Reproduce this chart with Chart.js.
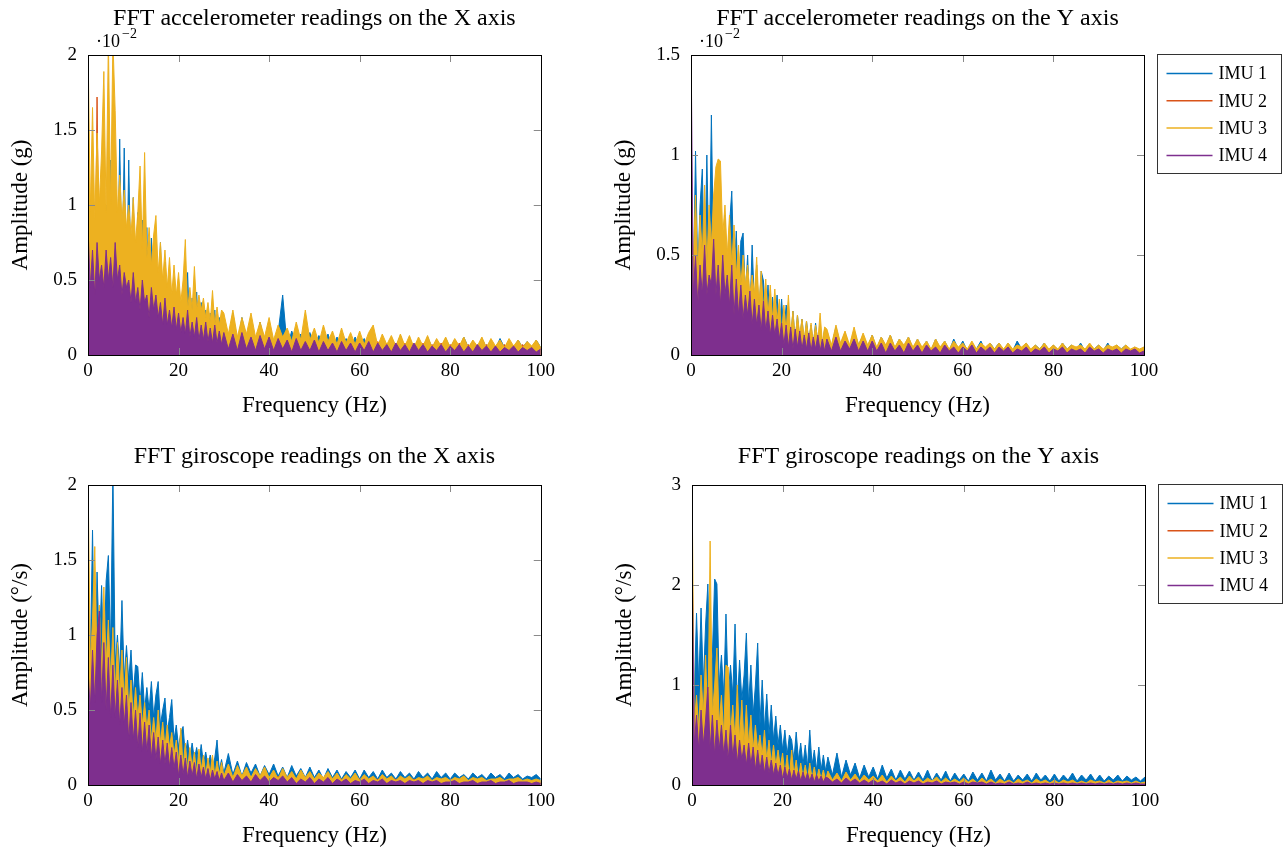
<!DOCTYPE html>
<html>
<head>
<meta charset="utf-8">
<script src="https://cdn.jsdelivr.net/npm/chart.js@4.4.1/dist/chart.umd.min.js"></script>
<style>
  body { margin: 0; background: #fff; width: 1288px; height: 850px; position: relative; overflow: hidden; }
  canvas { position: absolute; }
</style>
</head>
<body>
<canvas id="accX" width="560" height="430" style="left:0px;top:0px"></canvas>
<canvas id="accY" width="685" height="430" style="left:603px;top:0px"></canvas>
<canvas id="gyrX" width="560" height="420" style="left:0px;top:430px"></canvas>
<canvas id="gyrY" width="684" height="420" style="left:604px;top:430px"></canvas>
<script>
// frequency bins (Hz) - 0.5 Hz steps up to 30, then 1 Hz
const freqHz = [
  0, 0.5, 1, 1.5, 2, 2.5, 3, 3.5, 4, 4.5,
  5, 5.5, 6, 6.5, 7, 7.5, 8, 8.5, 9, 9.5,
  10, 10.5, 11, 11.5, 12, 12.5, 13, 13.5, 14, 14.5,
  15, 15.5, 16, 16.5, 17, 17.5, 18, 18.5, 19, 19.5,
  20, 20.5, 21, 21.5, 22, 22.5, 23, 23.5, 24, 24.5,
  25, 25.5, 26, 26.5, 27, 27.5, 28, 28.5, 29, 29.5,
  30, 31, 32, 33, 34, 35, 36, 37, 38, 39,
  40, 41, 42, 43, 44, 45, 46, 47, 48, 49,
  50, 51, 52, 53, 54, 55, 56, 57, 58, 59,
  60, 61, 62, 63, 64, 65, 66, 67, 68, 69,
  70, 71, 72, 73, 74, 75, 76, 77, 78, 79,
  80, 81, 82, 83, 84, 85, 86, 87, 88, 89,
  90, 91, 92, 93, 94, 95, 96, 97, 98, 99, 100
];

const imuLabels = ["IMU 1", "IMU 2", "IMU 3", "IMU 4"];
const imuColors = ["#0072BD", "#D95319", "#EDB120", "#7E2F8E"];

const xTicks = [0, 20, 40, 60, 80, 100];
const yTicksAccX = [0, 0.5, 1, 1.5, 2];
const yTicksAccY = [0, 0.5, 1, 1.5];
const yTicksGyrX = [0, 0.5, 1, 1.5, 2];
const yTicksGyrY = [0, 1, 2, 3];

// accelerometer X (x 10^-2 g)
const accXImu1 = [
  0.9, 0.3, 1.1, 0.4, 0.95, 0.25, 1.2, 0.5, 1.0, 0.35,
  1.3, 0.4, 0.9, 0.3, 1.44, 0.5, 1.38, 0.35, 1.3, 0.45,
  1.05, 0.3, 0.95, 0.25, 0.9, 0.3, 0.85, 0.2, 0.78, 0.25,
  0.7, 0.2, 0.75, 0.15, 0.62, 0.2, 0.55, 0.1, 0.5, 0.15,
  0.45, 0.1, 0.4, 0.12, 0.55, 0.1, 0.38, 0.08, 0.42, 0.1,
  0.35, 0.08, 0.3, 0.1, 0.28, 0.06, 0.3, 0.08, 0.25, 0.07,
  0.22, 0.08, 0.28, 0.06, 0.25, 0.1, 0.2, 0.05, 0.22, 0.08,
  0.18, 0.06, 0.15, 0.4, 0.05, 0.16, 0.07, 0.14, 0.05, 0.15,
  0.06, 0.13, 0.05, 0.14, 0.04, 0.12, 0.06, 0.11, 0.04, 0.12,
  0.05, 0.11, 0.04, 0.13, 0.05, 0.1, 0.04, 0.12, 0.05, 0.13,
  0.04, 0.11, 0.05, 0.1, 0.04, 0.12, 0.05, 0.1, 0.04, 0.11,
  0.05, 0.1, 0.04, 0.12, 0.05, 0.09, 0.04, 0.11, 0.05, 0.1,
  0.04, 0.11, 0.05, 0.09, 0.04, 0.1, 0.05, 0.09, 0.04, 0.1, 0.05
];
const accXImu2 = [
  1.5, 0.3, 1.0, 0.2, 1.72, 0.4, 0.8, 0.1, 0.9, 0.3,
  0.7, 0.2, 0.9, 0.3, 0.6, 0.1, 0.75, 0.2, 0.5, 0.15,
  0.6, 0.1, 0.5, 0.2, 0.45, 0.1, 0.5, 0.08, 0.4, 0.1,
  0.35, 0.05, 0.4, 0.1, 0.3, 0.05, 0.35, 0.08, 0.25, 0.05,
  0.3, 0.05, 0.25, 0.08, 0.2, 0.04, 0.22, 0.05, 0.18, 0.04,
  0.2, 0.05, 0.15, 0.03, 0.18, 0.04, 0.14, 0.03, 0.16, 0.04,
  0.14, 0.03, 0.12, 0.04, 0.13, 0.02, 0.11, 0.03, 0.12, 0.04,
  0.1, 0.03, 0.11, 0.02, 0.1, 0.03, 0.09, 0.02, 0.1, 0.03,
  0.09, 0.02, 0.1, 0.03, 0.08, 0.02, 0.09, 0.03, 0.08, 0.02,
  0.09, 0.03, 0.08, 0.02, 0.09, 0.03, 0.08, 0.02, 0.07, 0.03,
  0.08, 0.02, 0.07, 0.03, 0.08, 0.02, 0.07, 0.03, 0.08, 0.02,
  0.07, 0.02, 0.08, 0.03, 0.07, 0.02, 0.06, 0.03, 0.07, 0.02,
  0.06, 0.03, 0.07, 0.02, 0.06, 0.03, 0.07, 0.02, 0.06, 0.03, 0.05
];
const accXImu3 = [
  2.1, 0.95, 1.65, 0.9, 1.48, 1.0, 1.36, 1.89, 0.95, 2.1,
  1.0, 2.1, 1.63, 0.95, 1.2, 0.9, 1.1, 0.85, 1.0, 0.8,
  1.05, 0.75, 0.95, 1.26, 0.7, 1.35, 0.65, 0.85, 0.6, 0.8,
  0.93, 0.55, 0.75, 0.5, 0.7, 0.45, 0.65, 0.4, 0.6, 0.4,
  0.55, 0.35, 0.5, 0.77, 0.3, 0.45, 0.3, 0.59, 0.3, 0.4,
  0.3, 0.38, 0.25, 0.35, 0.22, 0.43, 0.2, 0.32, 0.2, 0.3,
  0.28, 0.14, 0.3, 0.12, 0.25, 0.14, 0.28, 0.12, 0.22, 0.12,
  0.25, 0.1, 0.2, 0.12, 0.18, 0.09, 0.22, 0.1, 0.3, 0.1,
  0.18, 0.08, 0.2, 0.09, 0.16, 0.07, 0.18, 0.08, 0.15, 0.07,
  0.16, 0.07, 0.15, 0.2, 0.06, 0.14, 0.07, 0.13, 0.06, 0.14,
  0.06, 0.13, 0.05, 0.12, 0.06, 0.13, 0.05, 0.11, 0.06, 0.12,
  0.05, 0.11, 0.06, 0.12, 0.05, 0.1, 0.06, 0.12, 0.05, 0.11,
  0.06, 0.1, 0.05, 0.11, 0.06, 0.1, 0.05, 0.09, 0.06, 0.1, 0.05
];
const accXImu4 = [
  0.85, 0.45, 0.7, 0.4, 0.75, 0.5, 0.6, 0.45, 0.7, 0.5,
  0.65, 0.45, 0.75, 0.5, 0.6, 0.4, 0.55, 0.45, 0.5, 0.35,
  0.55, 0.35, 0.45, 0.3, 0.5, 0.35, 0.4, 0.25, 0.45, 0.3,
  0.4, 0.25, 0.35, 0.2, 0.38, 0.2, 0.3, 0.18, 0.32, 0.17,
  0.28, 0.15, 0.25, 0.14, 0.3, 0.12, 0.22, 0.12, 0.25, 0.1,
  0.2, 0.1, 0.22, 0.09, 0.18, 0.08, 0.2, 0.08, 0.16, 0.07,
  0.15, 0.04, 0.14, 0.03, 0.15, 0.04, 0.12, 0.03, 0.13, 0.04,
  0.12, 0.03, 0.11, 0.04, 0.1, 0.02, 0.11, 0.03, 0.09, 0.03,
  0.1, 0.02, 0.09, 0.03, 0.08, 0.02, 0.09, 0.03, 0.08, 0.02,
  0.08, 0.03, 0.09, 0.02, 0.08, 0.03, 0.07, 0.02, 0.08, 0.03,
  0.07, 0.02, 0.08, 0.03, 0.07, 0.02, 0.06, 0.03, 0.07, 0.02,
  0.06, 0.03, 0.07, 0.02, 0.06, 0.02, 0.07, 0.03, 0.06, 0.02,
  0.06, 0.02, 0.05, 0.03, 0.06, 0.02, 0.05, 0.03, 0.05, 0.02, 0.04
];

// accelerometer Y (x 10^-2 g)
const accYImu1 = [
  0.87, 0.3, 1.02, 0.4, 0.75, 0.93, 0.35, 1.0, 0.4, 1.2,
  0.45, 0.8, 0.3, 0.75, 0.35, 0.7, 0.3, 0.65, 0.82, 0.4,
  0.62, 0.25, 0.57, 0.61, 0.3, 0.5, 0.2, 0.55, 0.25, 0.45,
  0.2, 0.42, 0.37, 0.15, 0.35, 0.12, 0.29, 0.15, 0.3, 0.1,
  0.28, 0.1, 0.25, 0.21, 0.08, 0.22, 0.07, 0.2, 0.08, 0.18,
  0.06, 0.17, 0.07, 0.15, 0.05, 0.16, 0.06, 0.14, 0.05, 0.13,
  0.12, 0.04, 0.14, 0.05, 0.11, 0.04, 0.12, 0.05, 0.1, 0.04,
  0.1, 0.03, 0.09, 0.04, 0.1, 0.03, 0.08, 0.04, 0.09, 0.03,
  0.08, 0.03, 0.07, 0.02, 0.08, 0.03, 0.07, 0.02, 0.08, 0.03,
  0.07, 0.02, 0.06, 0.03, 0.07, 0.02, 0.06, 0.03, 0.06, 0.02,
  0.06, 0.02, 0.07, 0.03, 0.06, 0.02, 0.05, 0.03, 0.06, 0.02,
  0.05, 0.02, 0.06, 0.03, 0.05, 0.02, 0.06, 0.02, 0.05, 0.03,
  0.05, 0.02, 0.06, 0.02, 0.05, 0.03, 0.05, 0.02, 0.04, 0.02, 0.04
];
const accYImu2 = [
  0.5, 0.1, 0.45, 0.15, 0.55, 0.1, 0.4, 0.2, 0.5, 0.1,
  0.45, 0.12, 0.4, 0.08, 0.35, 0.1, 0.4, 0.05, 0.3, 0.1,
  0.3, 0.05, 0.28, 0.08, 0.25, 0.05, 0.22, 0.06, 0.2, 0.04,
  0.18, 0.05, 0.2, 0.04, 0.15, 0.03, 0.16, 0.04, 0.14, 0.03,
  0.13, 0.03, 0.12, 0.02, 0.11, 0.03, 0.1, 0.02, 0.1, 0.03,
  0.09, 0.02, 0.1, 0.03, 0.08, 0.02, 0.09, 0.02, 0.08, 0.03,
  0.08, 0.02, 0.07, 0.03, 0.08, 0.02, 0.07, 0.02, 0.06, 0.03,
  0.07, 0.02, 0.06, 0.03, 0.07, 0.02, 0.06, 0.02, 0.05, 0.03,
  0.06, 0.02, 0.05, 0.02, 0.06, 0.03, 0.05, 0.02, 0.05, 0.02,
  0.05, 0.02, 0.06, 0.02, 0.05, 0.03, 0.05, 0.02, 0.04, 0.02,
  0.05, 0.02, 0.04, 0.03, 0.05, 0.02, 0.04, 0.02, 0.05, 0.02,
  0.04, 0.02, 0.05, 0.02, 0.04, 0.03, 0.04, 0.02, 0.05, 0.02,
  0.04, 0.02, 0.04, 0.03, 0.04, 0.02, 0.05, 0.02, 0.04, 0.02, 0.03
];
const accYImu3 = [
  0.65, 0.45, 0.8, 0.4, 0.7, 0.5, 0.85, 0.45, 0.75, 0.55,
  0.8, 0.94, 0.98, 0.97, 0.6, 0.75, 0.5, 0.7, 0.45, 0.65,
  0.4, 0.55, 0.35, 0.5, 0.35, 0.45, 0.3, 0.4, 0.3, 0.49,
  0.25, 0.42, 0.22, 0.38, 0.2, 0.35, 0.18, 0.33, 0.17, 0.28,
  0.1, 0.25, 0.12, 0.3, 0.1, 0.22, 0.08, 0.2, 0.1, 0.18,
  0.08, 0.17, 0.07, 0.16, 0.06, 0.15, 0.07, 0.21, 0.06, 0.14,
  0.13, 0.05, 0.15, 0.06, 0.12, 0.05, 0.14, 0.05, 0.11, 0.05,
  0.1, 0.04, 0.09, 0.05, 0.1, 0.04, 0.08, 0.05, 0.09, 0.04,
  0.08, 0.04, 0.07, 0.03, 0.08, 0.04, 0.07, 0.03, 0.07, 0.04,
  0.06, 0.03, 0.07, 0.03, 0.06, 0.04, 0.06, 0.03, 0.06, 0.03,
  0.06, 0.03, 0.05, 0.04, 0.06, 0.03, 0.05, 0.03, 0.06, 0.03,
  0.05, 0.03, 0.06, 0.03, 0.05, 0.04, 0.05, 0.03, 0.06, 0.03,
  0.05, 0.03, 0.05, 0.04, 0.05, 0.03, 0.05, 0.03, 0.04, 0.03, 0.04
];
const accYImu4 = [
  1.6, 0.3, 0.5, 0.25, 0.45, 0.3, 0.55, 0.3, 0.4, 0.35,
  0.58, 0.3, 0.45, 0.25, 0.5, 0.3, 0.4, 0.25, 0.45, 0.2,
  0.38, 0.2, 0.35, 0.18, 0.3, 0.2, 0.32, 0.15, 0.28, 0.15,
  0.25, 0.12, 0.27, 0.12, 0.22, 0.1, 0.2, 0.1, 0.18, 0.08,
  0.16, 0.05, 0.15, 0.04, 0.14, 0.03, 0.13, 0.04, 0.12, 0.03,
  0.1, 0.03, 0.11, 0.02, 0.09, 0.03, 0.1, 0.02, 0.08, 0.02,
  0.08, 0.02, 0.09, 0.02, 0.07, 0.03, 0.08, 0.02, 0.07, 0.02,
  0.07, 0.02, 0.06, 0.01, 0.06, 0.02, 0.05, 0.01, 0.06, 0.02,
  0.05, 0.01, 0.05, 0.02, 0.04, 0.01, 0.05, 0.02, 0.04, 0.01,
  0.04, 0.02, 0.05, 0.01, 0.04, 0.02, 0.04, 0.01, 0.04, 0.02,
  0.04, 0.01, 0.03, 0.02, 0.04, 0.01, 0.03, 0.02, 0.04, 0.01,
  0.03, 0.02, 0.04, 0.01, 0.03, 0.02, 0.03, 0.01, 0.04, 0.02,
  0.03, 0.01, 0.03, 0.02, 0.03, 0.01, 0.03, 0.02, 0.03, 0.01, 0.02
];

// giroscope X (deg/s)
const gyrXImu1 = [
  1.35, 0.8, 1.7, 0.7, 1.42, 0.9, 1.33, 0.8, 1.36, 1.53,
  0.9, 2.1, 0.8, 1.0, 0.75, 1.23, 0.7, 0.93, 0.7, 0.9,
  0.6, 0.8, 0.79, 0.55, 0.75, 0.5, 0.65, 0.5, 0.69, 0.45,
  0.6, 0.69, 0.4, 0.5, 0.58, 0.35, 0.45, 0.57, 0.3, 0.4,
  0.25, 0.35, 0.39, 0.2, 0.3, 0.18, 0.28, 0.17, 0.25, 0.15,
  0.27, 0.14, 0.22, 0.13, 0.2, 0.12, 0.18, 0.3, 0.1, 0.17,
  0.08, 0.21, 0.07, 0.16, 0.06, 0.15, 0.08, 0.14, 0.06, 0.13,
  0.07, 0.14, 0.06, 0.12, 0.05, 0.13, 0.06, 0.11, 0.05, 0.12,
  0.05, 0.1, 0.04, 0.11, 0.05, 0.1, 0.04, 0.09, 0.05, 0.1,
  0.04, 0.1, 0.05, 0.09, 0.04, 0.1, 0.05, 0.08, 0.04, 0.09,
  0.05, 0.08, 0.04, 0.09, 0.05, 0.08, 0.04, 0.09, 0.05, 0.08,
  0.04, 0.08, 0.05, 0.07, 0.04, 0.08, 0.05, 0.07, 0.04, 0.08,
  0.05, 0.07, 0.04, 0.08, 0.05, 0.07, 0.04, 0.06, 0.05, 0.07, 0.04
];
const gyrXImu2 = [
  0.9, 0.2, 0.7, 0.1, 0.85, 0.25, 0.6, 0.05, 0.7, 0.2,
  0.55, 0.1, 0.6, 0.05, 0.5, 0.15, 0.45, 0.05, 0.4, 0.1,
  0.35, 0.05, 0.4, 0.1, 0.3, 0.05, 0.25, 0.08, 0.3, 0.05,
  0.2, 0.04, 0.25, 0.06, 0.18, 0.03, 0.2, 0.05, 0.15, 0.03,
  0.15, 0.03, 0.12, 0.04, 0.13, 0.02, 0.11, 0.03, 0.1, 0.02,
  0.1, 0.02, 0.09, 0.03, 0.08, 0.02, 0.09, 0.02, 0.07, 0.02,
  0.07, 0.02, 0.06, 0.01, 0.07, 0.02, 0.06, 0.01, 0.05, 0.02,
  0.05, 0.01, 0.06, 0.02, 0.05, 0.01, 0.04, 0.02, 0.05, 0.01,
  0.04, 0.01, 0.05, 0.02, 0.04, 0.01, 0.04, 0.02, 0.03, 0.01,
  0.04, 0.01, 0.03, 0.02, 0.04, 0.01, 0.03, 0.02, 0.04, 0.01,
  0.03, 0.01, 0.04, 0.02, 0.03, 0.01, 0.03, 0.02, 0.03, 0.01,
  0.03, 0.02, 0.03, 0.01, 0.03, 0.02, 0.03, 0.01, 0.02, 0.01,
  0.03, 0.01, 0.02, 0.02, 0.03, 0.01, 0.02, 0.01, 0.03, 0.01, 0.02
];
const gyrXImu3 = [
  2.1, 0.8, 1.1, 1.59, 0.8, 1.2, 0.75, 1.32, 0.8, 1.1,
  0.7, 1.05, 0.6, 0.95, 0.6, 0.9, 0.55, 0.85, 0.5, 0.7,
  0.45, 0.65, 0.45, 0.6, 0.4, 0.55, 0.38, 0.5, 0.3, 0.45,
  0.3, 0.5, 0.28, 0.42, 0.25, 0.4, 0.25, 0.35, 0.2, 0.3,
  0.15, 0.38, 0.12, 0.28, 0.1, 0.25, 0.12, 0.22, 0.08, 0.24,
  0.1, 0.2, 0.07, 0.18, 0.08, 0.2, 0.06, 0.16, 0.07, 0.15,
  0.06, 0.14, 0.05, 0.13, 0.06, 0.12, 0.05, 0.11, 0.06, 0.12,
  0.05, 0.1, 0.04, 0.11, 0.05, 0.09, 0.04, 0.1, 0.05, 0.09,
  0.04, 0.08, 0.05, 0.09, 0.04, 0.08, 0.03, 0.07, 0.04, 0.08,
  0.03, 0.07, 0.04, 0.06, 0.03, 0.07, 0.04, 0.06, 0.03, 0.06,
  0.04, 0.06, 0.03, 0.05, 0.04, 0.06, 0.03, 0.05, 0.04, 0.05,
  0.03, 0.05, 0.04, 0.06, 0.03, 0.05, 0.04, 0.05, 0.03, 0.04,
  0.04, 0.05, 0.03, 0.04, 0.04, 0.05, 0.03, 0.04, 0.03, 0.04, 0.03
];
const gyrXImu4 = [
  0.77, 0.5, 0.9, 0.55, 1.0, 1.16, 0.55, 0.95, 0.5, 0.85,
  0.45, 0.8, 0.45, 0.7, 0.4, 0.65, 0.4, 0.6, 0.3, 0.55,
  0.3, 0.5, 0.25, 0.48, 0.22, 0.42, 0.22, 0.4, 0.18, 0.35,
  0.17, 0.32, 0.14, 0.3, 0.14, 0.28, 0.12, 0.25, 0.11, 0.22,
  0.06, 0.2, 0.07, 0.18, 0.05, 0.16, 0.06, 0.15, 0.04, 0.14,
  0.05, 0.12, 0.04, 0.11, 0.03, 0.1, 0.04, 0.09, 0.03, 0.08,
  0.03, 0.08, 0.02, 0.07, 0.03, 0.06, 0.02, 0.07, 0.03, 0.06,
  0.02, 0.05, 0.03, 0.06, 0.02, 0.05, 0.01, 0.04, 0.02, 0.05,
  0.01, 0.04, 0.02, 0.05, 0.01, 0.04, 0.02, 0.04, 0.01, 0.03,
  0.02, 0.04, 0.01, 0.03, 0.02, 0.04, 0.01, 0.03, 0.02, 0.03,
  0.01, 0.03, 0.02, 0.03, 0.01, 0.03, 0.02, 0.03, 0.01, 0.02,
  0.02, 0.03, 0.01, 0.02, 0.02, 0.03, 0.01, 0.02, 0.02, 0.03,
  0.01, 0.02, 0.02, 0.03, 0.01, 0.02, 0.02, 0.02, 0.01, 0.02, 0.01
];

// giroscope Y (deg/s)
const gyrYImu1 = [
  1.2, 0.9, 1.72, 1.0, 1.77, 1.0, 1.6, 2.01, 1.1, 1.3,
  2.06, 2.01, 1.0, 1.3, 0.9, 1.71, 0.9, 1.2, 0.9, 1.61,
  0.8, 1.25, 0.85, 1.1, 1.52, 0.8, 1.2, 0.7, 1.0, 1.42,
  0.6, 1.05, 0.55, 0.91, 0.5, 0.8, 0.45, 0.69, 0.4, 0.6,
  0.35, 0.55, 0.3, 0.5, 0.45, 0.25, 0.53, 0.25, 0.42, 0.2,
  0.4, 0.18, 0.55, 0.2, 0.35, 0.15, 0.38, 0.15, 0.3, 0.14,
  0.28, 0.1, 0.32, 0.08, 0.25, 0.1, 0.22, 0.07, 0.2, 0.08,
  0.18, 0.06, 0.2, 0.07, 0.16, 0.05, 0.15, 0.06, 0.14, 0.05,
  0.13, 0.05, 0.15, 0.04, 0.12, 0.05, 0.14, 0.04, 0.12, 0.05,
  0.11, 0.04, 0.13, 0.05, 0.12, 0.04, 0.15, 0.05, 0.11, 0.04,
  0.12, 0.04, 0.1, 0.05, 0.11, 0.04, 0.12, 0.05, 0.1, 0.04,
  0.11, 0.04, 0.1, 0.05, 0.12, 0.04, 0.1, 0.05, 0.11, 0.04,
  0.1, 0.04, 0.09, 0.05, 0.1, 0.04, 0.09, 0.05, 0.08, 0.04, 0.08
];
const gyrYImu2 = [
  0.4, 0.1, 0.35, 0.05, 0.3, 0.1, 0.38, 0.05, 0.25, 0.1,
  0.3, 0.05, 0.25, 0.08, 0.22, 0.04, 0.25, 0.06, 0.2, 0.03,
  0.22, 0.05, 0.18, 0.03, 0.2, 0.04, 0.16, 0.03, 0.18, 0.02,
  0.15, 0.03, 0.14, 0.02, 0.12, 0.03, 0.13, 0.02, 0.1, 0.02,
  0.1, 0.02, 0.09, 0.01, 0.08, 0.02, 0.08, 0.01, 0.07, 0.02,
  0.07, 0.01, 0.06, 0.02, 0.06, 0.01, 0.05, 0.01, 0.05, 0.02,
  0.05, 0.01, 0.04, 0.02, 0.05, 0.01, 0.04, 0.01, 0.04, 0.02,
  0.04, 0.01, 0.03, 0.01, 0.04, 0.02, 0.03, 0.01, 0.03, 0.01,
  0.03, 0.01, 0.03, 0.02, 0.03, 0.01, 0.02, 0.01, 0.03, 0.01,
  0.02, 0.01, 0.03, 0.01, 0.02, 0.01, 0.03, 0.01, 0.02, 0.01,
  0.02, 0.01, 0.02, 0.01, 0.03, 0.01, 0.02, 0.01, 0.02, 0.01,
  0.02, 0.01, 0.02, 0.01, 0.02, 0.01, 0.02, 0.01, 0.02, 0.01,
  0.02, 0.01, 0.02, 0.01, 0.02, 0.01, 0.02, 0.01, 0.02, 0.01, 0.01
];
const gyrYImu3 = [
  3.1, 0.6, 0.9, 0.55, 1.1, 0.7, 1.3, 0.6, 2.44, 0.7,
  1.0, 1.37, 0.6, 0.9, 0.5, 1.2, 1.18, 0.5, 0.8, 0.45,
  1.0, 0.45, 0.85, 0.4, 0.8, 0.4, 0.7, 0.35, 0.6, 0.35,
  0.5, 0.3, 0.55, 0.25, 0.45, 0.22, 0.4, 0.2, 0.35, 0.18,
  0.32, 0.1, 0.3, 0.08, 0.35, 0.1, 0.25, 0.07, 0.22, 0.08,
  0.2, 0.06, 0.22, 0.07, 0.18, 0.05, 0.16, 0.06, 0.15, 0.05,
  0.14, 0.05, 0.12, 0.04, 0.13, 0.05, 0.11, 0.04, 0.1, 0.05,
  0.09, 0.04, 0.1, 0.03, 0.09, 0.04, 0.08, 0.03, 0.09, 0.04,
  0.08, 0.03, 0.07, 0.04, 0.08, 0.03, 0.07, 0.03, 0.06, 0.03,
  0.07, 0.03, 0.06, 0.02, 0.07, 0.03, 0.06, 0.02, 0.06, 0.03,
  0.05, 0.02, 0.06, 0.03, 0.05, 0.02, 0.06, 0.03, 0.05, 0.02,
  0.05, 0.02, 0.05, 0.03, 0.05, 0.02, 0.04, 0.02, 0.05, 0.03,
  0.04, 0.02, 0.05, 0.02, 0.04, 0.03, 0.04, 0.02, 0.04, 0.02, 0.03
];
const gyrYImu4 = [
  2.42, 0.4, 0.7, 0.35, 0.75, 0.4, 0.65, 0.98, 0.35, 0.7,
  0.3, 0.65, 0.35, 0.6, 0.3, 0.55, 0.25, 0.6, 0.28, 0.5,
  0.22, 0.45, 0.25, 0.4, 0.2, 0.42, 0.2, 0.38, 0.15, 0.35,
  0.15, 0.3, 0.12, 0.28, 0.12, 0.25, 0.1, 0.22, 0.1, 0.2,
  0.06, 0.18, 0.07, 0.16, 0.05, 0.15, 0.06, 0.14, 0.04, 0.13,
  0.05, 0.12, 0.04, 0.11, 0.03, 0.1, 0.04, 0.09, 0.03, 0.08,
  0.07, 0.03, 0.06, 0.02, 0.07, 0.03, 0.06, 0.02, 0.05, 0.02,
  0.05, 0.02, 0.04, 0.01, 0.05, 0.02, 0.04, 0.01, 0.04, 0.02,
  0.04, 0.01, 0.03, 0.02, 0.04, 0.01, 0.03, 0.02, 0.03, 0.01,
  0.03, 0.01, 0.03, 0.02, 0.03, 0.01, 0.03, 0.01, 0.02, 0.01,
  0.03, 0.01, 0.02, 0.01, 0.03, 0.01, 0.02, 0.01, 0.02, 0.01,
  0.02, 0.01, 0.02, 0.01, 0.02, 0.01, 0.02, 0.01, 0.02, 0.01,
  0.02, 0.01, 0.02, 0.01, 0.02, 0.01, 0.02, 0.01, 0.02, 0.01, 0.01
];

const serif = "'Liberation Serif', 'Times New Roman', serif";

// titles, axis names, exponent note, inward ticks, frame and legend
const panelDecor = {
  id: "panelDecor",
  afterDraw(chart, args, opts) {
    const ctx = chart.ctx;
    const { left, top, right, bottom } = chart.chartArea;
    const xs = chart.scales.x;
    const ys = chart.scales.y;
    ctx.save();

    // ticks pointing inside the box
    ctx.strokeStyle = "#8a8a8a";
    ctx.lineWidth = 1;
    ctx.beginPath();
    xs.ticks.forEach((t) => {
      const px = Math.round(xs.getPixelForValue(t.value)) + 0.5;
      ctx.moveTo(px, bottom);
      ctx.lineTo(px, bottom - 7);
      ctx.moveTo(px, top);
      ctx.lineTo(px, top + 7);
    });
    ys.ticks.forEach((t) => {
      const py = Math.round(ys.getPixelForValue(t.value)) + 0.5;
      ctx.moveTo(left, py);
      ctx.lineTo(left + 7, py);
      ctx.moveTo(right, py);
      ctx.lineTo(right - 7, py);
    });
    ctx.stroke();

    ctx.strokeStyle = "#000";
    ctx.strokeRect(Math.round(left) + 0.5, Math.round(top) + 0.5,
      Math.round(right - left), Math.round(bottom - top));

    ctx.fillStyle = "#000";
    ctx.textAlign = "center";
    ctx.textBaseline = "alphabetic";
    ctx.font = "24px " + serif;
    ctx.fillText(opts.title, (left + right) / 2, top + opts.titleOffset);

    ctx.font = "23px " + serif;
    ctx.fillText("Frequency (Hz)", (left + right) / 2, bottom + 57);

    ctx.save();
    ctx.translate(27, (top + bottom) / 2);
    ctx.rotate(-Math.PI / 2);
    ctx.fillText(opts.yTitle, 0, 0);
    ctx.restore();

    if (opts.exponent) {
      ctx.textAlign = "left";
      ctx.font = "18px " + serif;
      ctx.fillText("\u00b710", left + 8, top - 8);
      ctx.font = "14px " + serif;
      ctx.fillText("\u22122", left + 34, top - 17);
    }

    if (opts.legend) {
      const bx = Math.round(right) + 13.5;
      const by = Math.round(top) - 0.5;
      ctx.strokeStyle = "#333";
      ctx.strokeRect(bx, by, 124, 119);
      ctx.font = "18px " + serif;
      ctx.textAlign = "left";
      ctx.textBaseline = "middle";
      chart.data.datasets.forEach((ds, i) => {
        const ly = by + 19 + i * 27.3;
        ctx.strokeStyle = ds.borderColor;
        ctx.lineWidth = 1.5;
        ctx.beginPath();
        ctx.moveTo(bx + 9, ly);
        ctx.lineTo(bx + 55, ly);
        ctx.stroke();
        ctx.fillStyle = "#000";
        ctx.fillText(ds.label, bx + 61, ly + 1);
      });
    }
    ctx.restore();
  },
};

function makePanel(id, series, yMax, yTicks, deco) {
  const canvas = document.getElementById(id);
  const rightPad = canvas.width - 541;
  return new Chart(canvas.getContext("2d"), {
    type: "line",
    data: {
      datasets: series.map((vals, i) => ({
        label: imuLabels[i],
        data: freqHz.map((f, k) => ({ x: f, y: vals[k] })),
        borderColor: imuColors[i],
        backgroundColor: imuColors[i],
        borderWidth: 1,
        pointRadius: 0,
        tension: 0,
        fill: "origin",
        order: 4 - i,
      })),
    },
    options: {
      responsive: false,
      animation: false,
      events: [],
      layout: { padding: { left: 0, top: 55, right: rightPad, bottom: 0 } },
      plugins: {
        legend: { display: false },
        tooltip: { enabled: false },
        panelDecor: deco,
      },
      scales: {
        x: {
          type: "linear",
          min: 0,
          max: 100,
          grid: { display: false, drawTicks: false },
          border: { display: false },
          afterBuildTicks: (axis) => {
            axis.ticks = xTicks.map((v) => ({ value: v }));
          },
          afterFit: (axis) => {
            axis.height = canvas.height - 355;
          },
          ticks: {
            autoSkip: false,
            maxRotation: 0,
            padding: 5,
            color: "#000",
            font: { family: serif, size: 19 },
            callback: (v) => String(v),
          },
        },
        y: {
          type: "linear",
          min: 0,
          max: yMax,
          grid: { display: false, drawTicks: false },
          border: { display: false },
          afterBuildTicks: (axis) => {
            axis.ticks = yTicks.map((v) => ({ value: v }));
          },
          afterFit: (axis) => {
            axis.width = 88;
          },
          ticks: {
            autoSkip: false,
            padding: 11,
            color: "#000",
            font: { family: serif, size: 19 },
            callback: (v) => String(v),
          },
        },
      },
    },
    plugins: [panelDecor],
  });
}

makePanel("accX", [accXImu1, accXImu2, accXImu3, accXImu4], 2, yTicksAccX, {
  title: "FFT accelerometer readings on the X axis",
  titleOffset: -30,
  yTitle: "Amplitude (g)",
  exponent: true,
  legend: false,
});
makePanel("accY", [accYImu1, accYImu2, accYImu3, accYImu4], 1.5, yTicksAccY, {
  title: "FFT accelerometer readings on the Y axis",
  titleOffset: -30,
  yTitle: "Amplitude (g)",
  exponent: true,
  legend: true,
});
makePanel("gyrX", [gyrXImu1, gyrXImu2, gyrXImu3, gyrXImu4], 2, yTicksGyrX, {
  title: "FFT giroscope readings on the X axis",
  titleOffset: -22,
  yTitle: "Amplitude (\u00b0/s)",
  exponent: false,
  legend: false,
});
makePanel("gyrY", [gyrYImu1, gyrYImu2, gyrYImu3, gyrYImu4], 3, yTicksGyrY, {
  title: "FFT giroscope readings on the Y axis",
  titleOffset: -22,
  yTitle: "Amplitude (\u00b0/s)",
  exponent: false,
  legend: true,
});
</script>
</body>
</html>
